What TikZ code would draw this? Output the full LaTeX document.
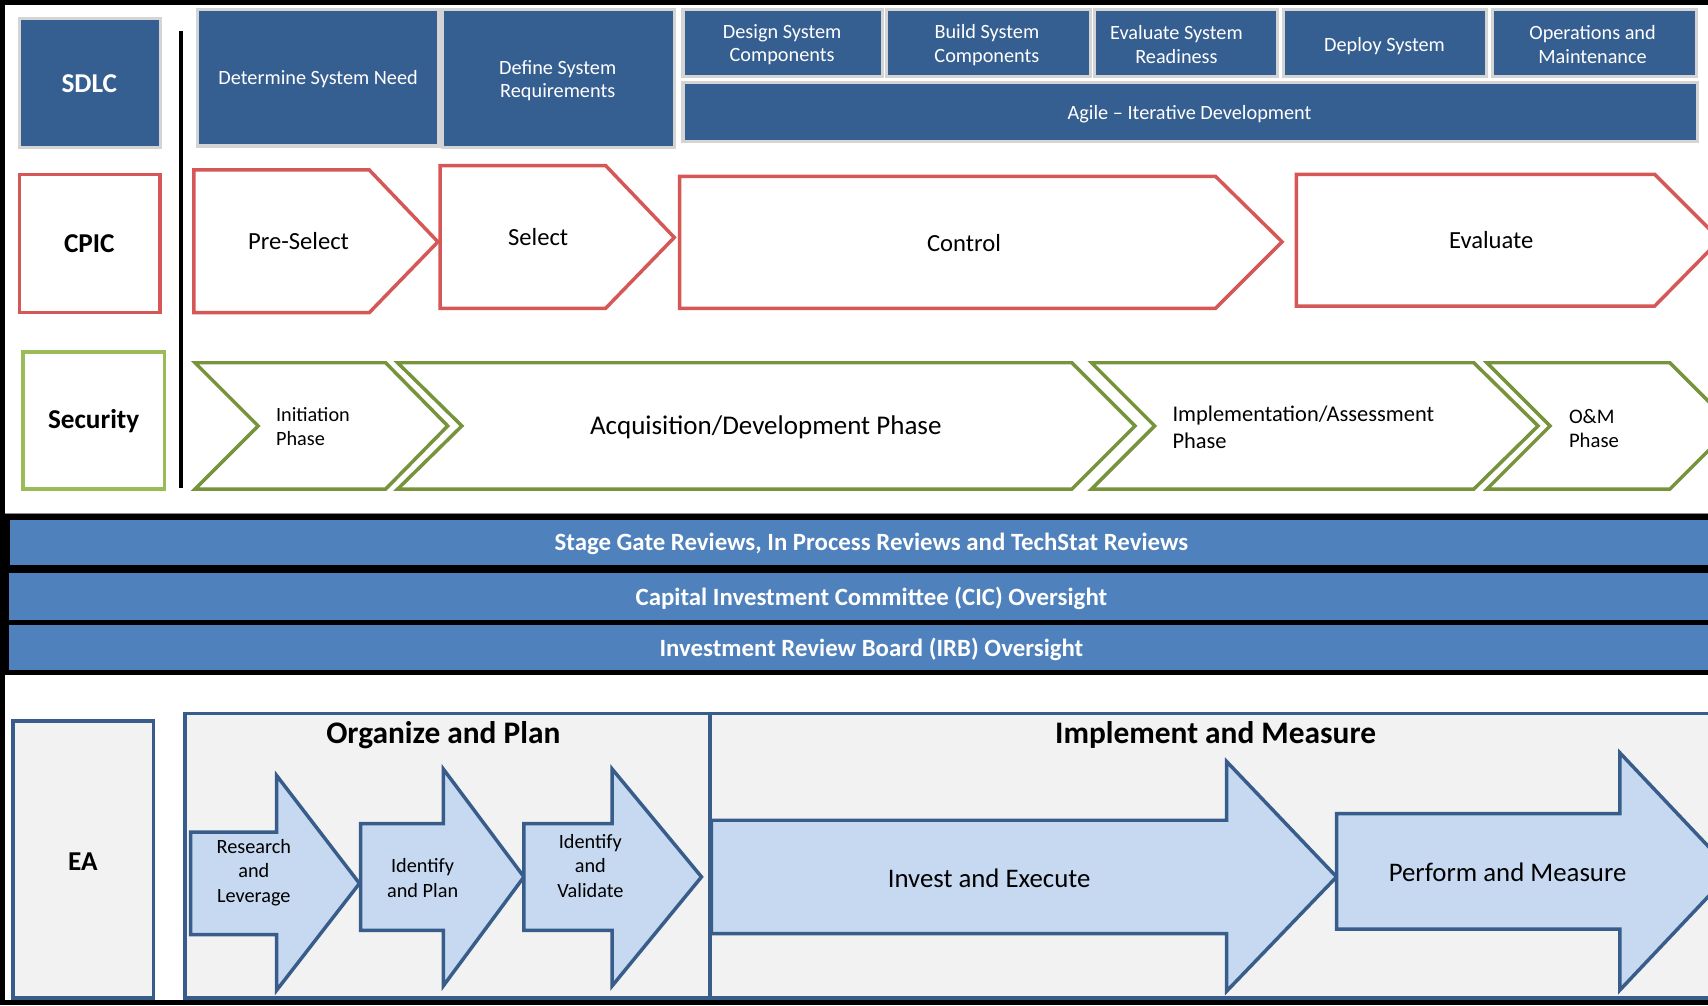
\documentclass[tikz,border=0pt]{standalone}
\usepackage{fontspec}
\setmainfont{Carlito}
\definecolor{sdlcblue}{RGB}{54,95,145}
\definecolor{boxgray}{RGB}{212,212,212}
\definecolor{cpicred}{RGB}{214,88,86}
\definecolor{secgreen}{RGB}{155,187,89}
\definecolor{chevgreen}{RGB}{119,147,60}
\definecolor{bandblue}{RGB}{79,129,189}
\definecolor{eablue}{RGB}{56,93,138}
\definecolor{eafill}{RGB}{242,242,242}
\definecolor{arrowfill}{RGB}{198,217,241}
\tikzset{
  topbox/.style={fill=sdlcblue, draw=boxgray, line width=1.4pt},
  wtext/.style={text=white, align=center, inner sep=0pt, font=\fontsize{9.3}{11}\selectfont},
  bigtext/.style={inner sep=0pt, font=\fontsize{12.5}{15}\selectfont\bfseries},
  cpicline/.style={draw=cpicred, line width=1.6pt, line join=miter, fill=white},
  cpictext/.style={inner sep=0pt, font=\fontsize{11.3}{13.5}\selectfont},
  chev/.style={draw=chevgreen, line width=1.6pt, line join=miter, fill=white},
  smalltext/.style={inner sep=0pt, align=left, font=\fontsize{9.3}{11}\selectfont},
  bandtext/.style={text=white, inner sep=0pt, font=\fontsize{11.4}{13}\selectfont\bfseries},
  eabox/.style={draw=eablue, fill=eafill, line width=1.6pt},
  blockarrow/.style={draw=eablue, fill=arrowfill, line width=1.6pt, line join=miter},
  arrowtext/.style={inner sep=0pt, align=center, font=\fontsize{9.3}{11.2}\selectfont},
  bigarrowtext/.style={inner sep=0pt, font=\fontsize{12.3}{14}\selectfont},
  headtext/.style={inner sep=0pt, font=\fontsize{14.4}{17}\selectfont\bfseries},
}
\begin{document}
\begin{tikzpicture}[x=0.5pt,y=-0.5pt]
\useasboundingbox (0,0) rectangle (1568,923);
\clip (0,0) rectangle (1568,923);
\fill[white] (0,0) rectangle (1568,923);

% ---------- SDLC row ----------
\path[topbox] (18,17) rectangle (147,135);
\node[bigtext, text=white] (sdlc) at (82,77) {SDLC};
\path[topbox] (181,9) rectangle (403,134);
\node[wtext] (need) at (292,73) {Determine System Need};
\path[topbox] (406,9) rectangle (619,135);
\node[wtext] (req) at (512,74) {Define System\\Requirements};
\path[topbox] (627,9) rectangle (810,70);
\node[wtext] (design) at (718,41) {Design System\\Components};
\path[topbox] (814,9) rectangle (1001,70);
\node[wtext] (build) at (906,41) {Build System\\Components};
\path[topbox] (1005,9) rectangle (1173,70);
\node[wtext] (evalsys) at (1080,41) {Evaluate System\\Readiness};
\path[topbox] (1178,9) rectangle (1365,70);
\node[wtext] (deploy) at (1271,42) {Deploy System};
\path[topbox] (1370,9) rectangle (1557,70);
\node[wtext] (ops) at (1462,41) {Operations and\\Maintenance};
\path[topbox] (627,76) rectangle (1558,130);
\node[wtext] (agile) at (1092,105) {Agile -- Iterative Development};

% separator line
\draw[line width=2pt] (166,28) -- (166,448);

% ---------- CPIC row ----------
\draw[draw=cpicred, line width=1.6pt] (18,160) rectangle (147,287);
\node[bigtext] (cpic) at (82,224) {CPIC};
\path[cpicline] (178,156) -- (339,156) -- (402,222) -- (339,287) -- (178,287) -- cycle;
\node[cpictext] (presel) at (274,221) {Pre-Select};
\path[cpicline] (404,152) -- (556,152) -- (619,218) -- (556,283) -- (404,283) -- cycle;
\node[cpictext] (select) at (494,218) {Select};
\path[cpicline] (624,162) -- (1116,162) -- (1177,222) -- (1116,283) -- (624,283) -- cycle;
\node[cpictext] (control) at (885,223) {Control};
\path[cpicline] (1190,160) -- (1519,160) -- (1579,220) -- (1519,281) -- (1190,281) -- cycle;
\node[cpictext] (evaluate) at (1369,220) {Evaluate};

% ---------- Security row ----------
\draw[draw=secgreen, line width=1.6pt] (21,323) rectangle (151,449);
\node[bigtext] (security) at (86,387) {Security};
\path[chev] (179,333) -- (354,333) -- (411,391) -- (354,449) -- (179,449) -- (237,391) -- cycle;
\node[smalltext, anchor=west] (init) at (253,392) {Initiation\\Phase};
\path[chev] (365,333) -- (984,333) -- (1042,391) -- (984,449) -- (365,449) -- (424,391) -- cycle;
\node[inner sep=0pt, font=\fontsize{12.4}{14}\selectfont] (acq) at (703,392) {Acquisition/Development Phase};
\path[chev] (1002,333) -- (1353,333) -- (1412,391) -- (1353,449) -- (1002,449) -- (1060,391) -- cycle;
\node[inner sep=0pt, align=left, font=\fontsize{10.3}{12.5}\selectfont, anchor=west] (impl) at (1076,392) {Implementation/Assessment\\Phase};
\path[chev] (1365,333) -- (1533,333) -- (1591,391) -- (1533,449) -- (1365,449) -- (1423,391) -- cycle;
\node[smalltext, font=\fontsize{9.5}{11}\selectfont, anchor=west] (om) at (1440,393) {O\&M\\Phase};

% ---------- Review bands ----------
\fill[black!45] (0,470.5) rectangle (1568,472);
\fill[black] (0,472) rectangle (1568,620);
\fill[bandblue] (9.5,477) rectangle (1568,518.5);
\fill[bandblue] (8.5,526) rectangle (1568,569);
\fill[bandblue] (8.5,574) rectangle (1568,615.5);
\node[bandtext] (stage) at (800,499) {Stage Gate Reviews, In Process Reviews and TechStat Reviews};
\node[bandtext] (cic) at (800,549) {Capital Investment Committee (CIC) Oversight};
\node[bandtext] (irb) at (800,596) {Investment Review Board (IRB) Oversight};

% ---------- EA row ----------
\path[eabox] (12,662) rectangle (141,916);
\node[bigtext] (ea) at (76,791) {EA};
\path[eabox] (170,655) rectangle (1620,916);
\draw[draw=eablue, line width=1.6pt] (652,655) -- (652,916);
\node[headtext] (orgplan) at (407,675) {Organize and Plan};
\node[headtext] (implmeas) at (1116,675) {Implement and Measure};

\path[blockarrow] (175,764) -- (254,764) -- (254,712) -- (330,811) -- (254,909) -- (254,858) -- (175,858) -- cycle;
\node[arrowtext] (research) at (233,801) {Research\\and\\Leverage};
\path[blockarrow] (331,756) -- (407,756) -- (407,706) -- (481,805) -- (407,905) -- (407,854) -- (331,854) -- cycle;
\node[arrowtext] (idplan) at (388,806) {Identify\\and Plan};
\path[blockarrow] (481,756) -- (562,756) -- (562,706) -- (644,805) -- (562,905) -- (562,854) -- (481,854) -- cycle;
\node[arrowtext] (idval) at (542,795) {Identify\\and\\Validate};
\path[blockarrow] (653,753) -- (1126,753) -- (1126,699) -- (1227,805) -- (1126,910) -- (1126,857) -- (653,857) -- cycle;
\node[bigarrowtext] (invest) at (908,806) {Invest and Execute};
\path[blockarrow] (1227,747) -- (1487,747) -- (1487,691) -- (1590,800) -- (1487,909) -- (1487,853) -- (1227,853) -- cycle;
\node[bigarrowtext] (perform) at (1384,801) {Perform and Measure};

% ---------- outer black frame ----------
\fill[black] (0,0) rectangle (1568,4.5);
\fill[black] (0,0) rectangle (4.5,923);
\fill[black] (0,918) rectangle (1568,923);
\end{tikzpicture}
\end{document}
